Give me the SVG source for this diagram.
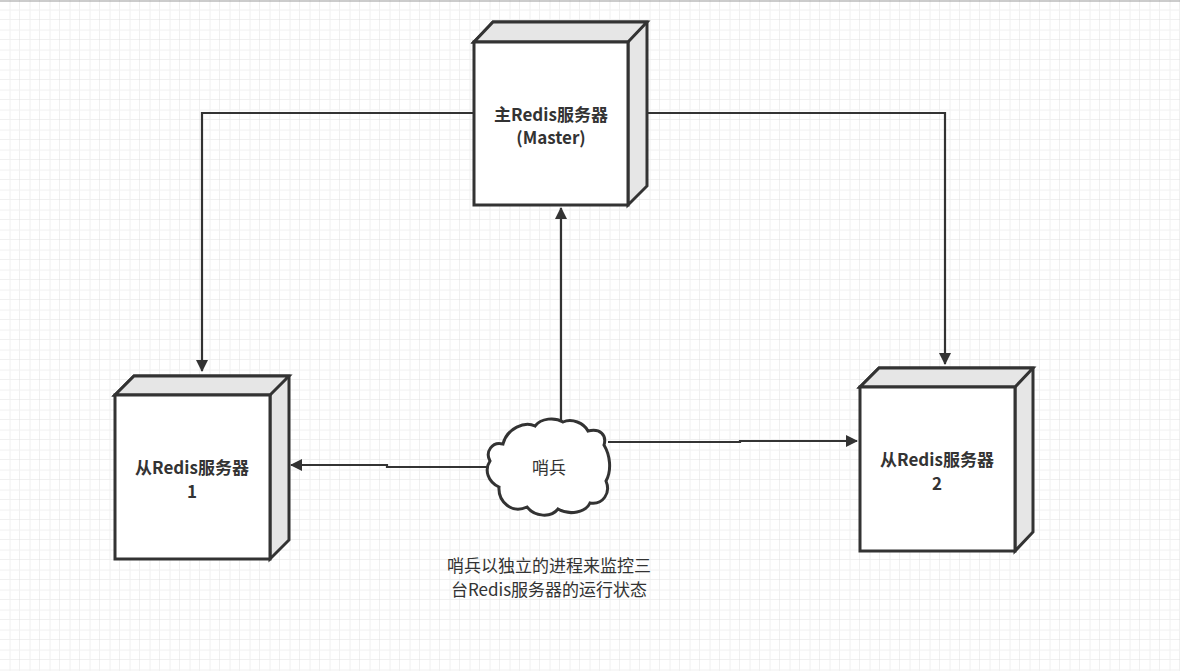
<svg xmlns="http://www.w3.org/2000/svg" width="1180" height="671" viewBox="0 0 1180 671">
<defs>
<pattern id="g" width="20" height="20" patternUnits="userSpaceOnUse" x="0" y="0"><path d="M20 0V20M0 20H20" stroke="#e0e0e0" stroke-width="1" fill="none"/><path d="M10 0V20M0 10H20" stroke="#f0f0f0" stroke-width="1" fill="none"/></pattern>
<marker id="a" markerWidth="12" markerHeight="12" refX="11" refY="6" orient="auto" markerUnits="userSpaceOnUse"><path d="M0 0L12 6L0 12Z" fill="#333"/></marker>
<style>
.f{fill:#fff;stroke:#333;stroke-width:3}
.s{fill:#e6e6e6;stroke:#333;stroke-width:3}
.c{fill:none;stroke:#333;stroke-width:2.2}
.t{font-family:"Noto Sans CJK SC","Liberation Sans",sans-serif;font-size:17px;font-weight:bold;fill:#333;text-anchor:middle}
.n{font-family:"Noto Sans CJK SC","Liberation Sans",sans-serif;font-size:17px;fill:#333;text-anchor:middle}
</style>
</defs>
<rect width="1180" height="671" fill="#fff"/>
<rect width="1180" height="671" fill="url(#g)"/>
<line x1="0" y1="1" x2="1180" y2="1" stroke="#999"/>
<g id="connectors">
<path class="c" d="M474 113H202V371" marker-end="url(#a)"/>
<path class="c" d="M628 113H945V364" marker-end="url(#a)"/>
<path class="c" d="M561 420V208" marker-end="url(#a)"/>
<path class="c" d="M487 467H387V465H291" marker-end="url(#a)"/>
<path class="c" d="M608 442H740V441H857" marker-end="url(#a)"/>
</g>
<g id="master">
<path class="s" d="M474 42L493 22H647V186L628 205V42Z"/>
<path class="s" d="M474 42L493 22H647L628 42Z"/>
<rect class="f" x="474" y="42" width="154" height="163"/>
<text class="t" x="551" y="121">主Redis服务器</text>
<text class="t" x="551" y="144">(Master)</text>
</g>
<g id="slave1">
<path class="s" d="M115 395L134 376H289V540L270 559V395Z"/>
<path class="s" d="M115 395L134 376H289L270 395Z"/>
<rect class="f" x="115" y="395" width="155" height="164"/>
<text class="t" x="192" y="474">从Redis服务器</text>
<text class="t" x="192" y="498">1</text>
</g>
<g id="slave2">
<path class="s" d="M860 387L879 368H1033V532L1015 551V387Z"/>
<path class="s" d="M860 387L879 368H1033L1015 387Z"/>
<rect class="f" x="860" y="387" width="155" height="164"/>
<text class="t" x="937" y="466">从Redis服务器</text>
<text class="t" x="937" y="490">2</text>
</g>
<g id="sentinel">
<path class="f" d="M503 444C492 441 485 452 490 461C484 470 488 482 499 487C498 502 512 514 527 507C535 517 551 518 558 509C570 516 586 512 590 503C603 505 611 493 606 481C612 470 610 455 604 445C607 435 600 428 588 431C584 423 572 418 563 422C555 417 541 418 535 426C525 421 507 428 503 444Z"/>
<text class="n" x="549" y="474">哨兵</text>
</g>
<g id="note">
<text class="n" x="549" y="572">哨兵以独立的进程来监控三</text>
<text class="n" x="549" y="596">台Redis服务器的运行状态</text>
</g>
</svg>
